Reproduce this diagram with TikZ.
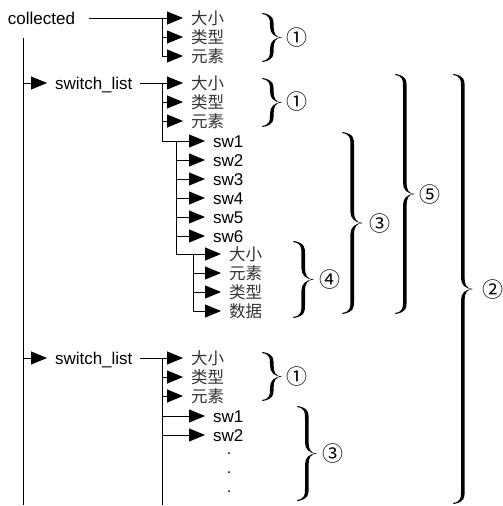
\documentclass[tikz,border=0pt]{standalone}
\usepackage{fontspec}
\setmainfont{Liberation Sans}
\newfontfamily\cjk{Noto Sans CJK SC}
\usetikzlibrary{arrows.meta}

\tikzset{
  tree/.style={line width=0.9pt, draw=black},
  arr/.style={tree, -{Triangle[length=16pt,width=13pt]}},
  lbl/.style={anchor=west, inner sep=0pt, outer xsep=8pt, text height=12.4pt, text depth=0pt,
    font=\fontsize{17}{17}\selectfont},
  zh/.style={anchor=west, inner sep=0pt, outer xsep=8pt, text=black!80,
    font=\cjk\fontsize{16.5}{16.5}\selectfont},
  num/.style={inner sep=0pt, font=\cjk\fontsize{21}{21}\selectfont},
  dot/.style={circle, fill=black, inner sep=0pt, minimum size=2pt},
}

% tapered curly brace: left x, top y, bottom y, width
\newcommand{\curly}[4]{%
  \pgfmathsetmacro\cym{(#2+#3)/2}
  \pgfmathsetmacro\cyc{min(0.55*#4,(#3-#2)/4.2)}
  \pgfmathsetmacro\cyl{#1+0.4*#4}
  \pgfmathsetmacro\cyr{\cyl+3.6}
  \pgfmathsetmacro\cyt{#1+#4}
  \fill (#1,#2) .. controls (\cyl,#2+0.1*\cyc) and (\cyl,#2+0.5*\cyc) .. (\cyl,#2+\cyc)
    -- (\cyl,\cym-\cyc) .. controls (\cyl,\cym-0.4*\cyc) and (\cyl+0.2*#4,\cym) .. (\cyt,\cym)
    .. controls (\cyl+0.2*#4,\cym) and (\cyl,\cym+0.4*\cyc) .. (\cyl,\cym+\cyc)
    -- (\cyl,#3-\cyc) .. controls (\cyl,#3-0.5*\cyc) and (\cyl,#3-0.1*\cyc) .. (#1,#3)
    -- (#1+0.8,#3+1) .. controls (\cyr,#3-0.1*\cyc) and (\cyr,#3-0.5*\cyc) .. (\cyr,#3-\cyc)
    -- (\cyr,\cym+\cyc) .. controls (\cyr,\cym+0.4*\cyc) and (\cyr+0.1*#4,\cym) .. (\cyt,\cym)
    .. controls (\cyr+0.1*#4,\cym) and (\cyr,\cym-0.4*\cyc) .. (\cyr,\cym-\cyc)
    -- (\cyr,#2+\cyc) .. controls (\cyr,#2+0.5*\cyc) and (\cyr,#2+0.1*\cyc) .. (#1+0.8,#2-1) -- cycle;
}

\begin{document}
\begin{tikzpicture}[x=1pt,y=-1pt]
  \useasboundingbox (0,0) rectangle (503,506);

  % top level
  \node[lbl, outer xsep=0pt] (col) at (8,18) {collected};
  \node[zh] (a1) at (183,18) {大小};
  \node[zh] (a2) at (183,37) {类型};
  \node[zh] (a3) at (183,56) {元素};
  \coordinate (ca) at (162,18);
  \draw[tree] ([xshift=14pt]col.east) -- (ca) -- (ca |- a3);
  \foreach \n in {a1,a2,a3} \draw[arr] (ca |- \n) -- (\n.west);

  % trunk
  \coordinate (top) at (23,38);
  \coordinate (bot) at (23,505);
  \draw[tree] (top) -- (bot);

  % first switch_list
  \node[lbl] (sl1) at (47,83) {switch\_list};
  \draw[arr] (top |- sl1) -- (sl1.west);
  \node[zh] (b1) at (183,83) {大小};
  \node[zh] (b2) at (183,102) {类型};
  \node[zh] (b3) at (183,121) {元素};
  \coordinate (cb) at (162,83);
  \draw[tree] (sl1.east) -- (cb);
  \foreach \n in {b1,b2,b3} \draw[arr] (cb |- \n) -- (\n.west);

  \foreach \i/\y in {1/141,2/160,3/179,4/198,5/217,6/236}
    \node[lbl] (s\i) at (205,\y) {sw\i};
  \draw[tree] (cb) -- (cb |- s1);
  \draw[arr] (cb |- s1) -- (s1.west);
  \coordinate (cs) at (176,141);
  \foreach \n in {s2,s3,s4,s5,s6} \draw[arr] (cs |- \n) -- (\n.west);

  \node[zh] (d1) at (221,254) {大小};
  \node[zh] (d2) at (221,273) {元素};
  \node[zh] (d3) at (221,292) {类型};
  \node[zh] (d4) at (221,311) {数据};
  \coordinate (cd) at (193,254);
  \draw[tree] (cs) -- (cs |- d1);
  \draw[arr] (cs |- d1) -- (d1.west);
  \draw[tree] (cd) -- (cd |- d4);
  \foreach \n in {d2,d3,d4} \draw[arr] (cd |- \n) -- (\n.west);

  % second switch_list
  \node[lbl] (sl2) at (47,358) {switch\_list};
  \draw[arr] (top |- sl2) -- (sl2.west);
  \node[zh] (e1) at (183,358) {大小};
  \node[zh] (e2) at (183,377) {类型};
  \node[zh] (e3) at (183,396) {元素};
  \node[lbl] (t1) at (205,416) {sw1};
  \node[lbl] (t2) at (205,435) {sw2};
  \coordinate (ce) at (162,358);
  \draw[tree] (sl2.east) -- (ce) -- (ce |- bot);
  \foreach \n in {e1,e2,e3,t1,t2} \draw[arr] (ce |- \n) -- (\n.west);
  \node[dot] (v1) at (229,453) {};
  \node[dot] (v2) at (229,472) {};
  \node[dot] (v3) at (229,491) {};

  % braces
  \curly{262}{14}{61}{20}
  \node[num] (n1) at (297,38) {①};
  \curly{262}{79}{126}{20}
  \node[num] (n2) at (297,102) {①};
  \curly{262}{353}{400}{20}
  \node[num] (n3) at (297,377) {①};
  \curly{342}{133}{313}{21}
  \node[num] (n4) at (380,224) {③};
  \curly{293}{242}{317}{21}
  \node[num] (n5) at (330,280) {④};
  \curly{395}{75}{313}{20}
  \node[num] (n6) at (430,195) {⑤};
  \curly{453}{75}{503}{20}
  \node[num] (n7) at (493,290) {②};
  \curly{297}{407}{500}{20}
  \node[num] (n8) at (333,454) {③};
\end{tikzpicture}
\end{document}
